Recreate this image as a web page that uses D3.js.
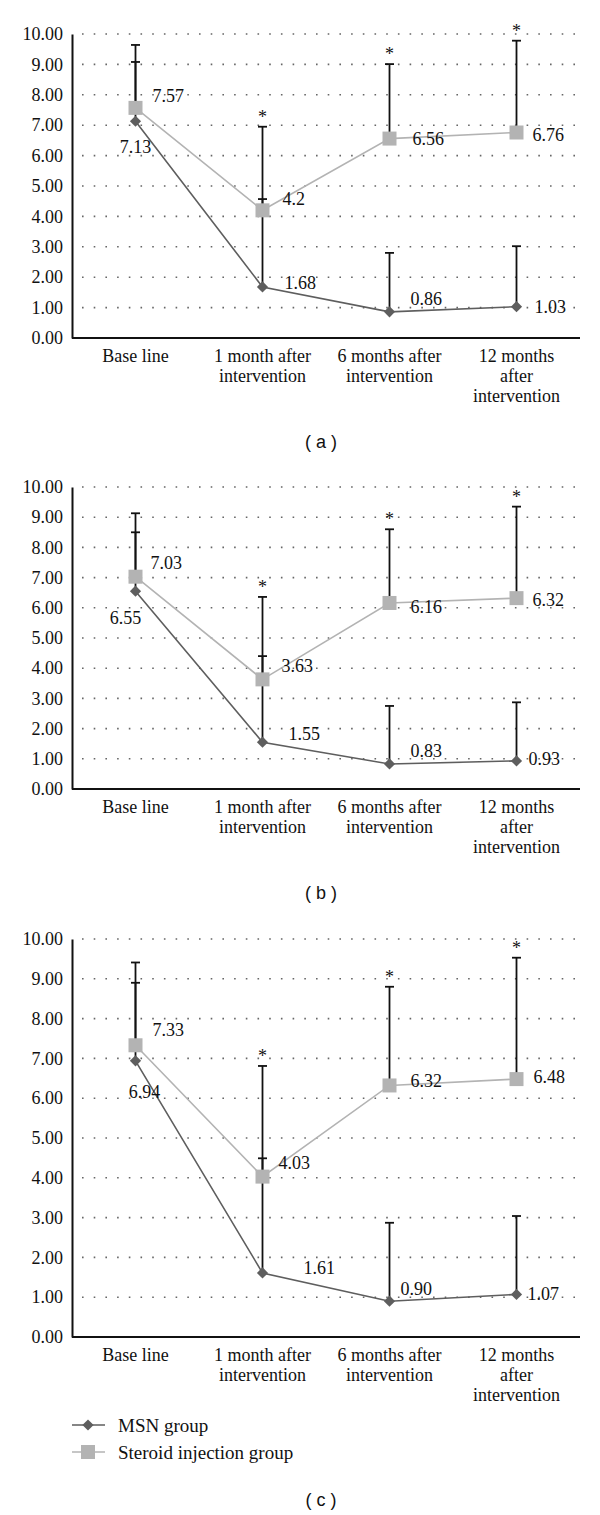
<!DOCTYPE html>
<html>
<head>
<meta charset="utf-8">
<script src="https://cdn.jsdelivr.net/npm/d3@7"></script>
<style>
  html, body { margin: 0; padding: 0; background: #fff; }
  svg { display: block; }
</style>
</head>
<body>
<svg id="chart" width="600" height="1515"></svg>
<script>
// ---------- data ----------
const categories = [
  ["Base line"],
  ["1 month after", "intervention"],
  ["6 months after", "intervention"],
  ["12 months", "after", "intervention"]
];
const yTicks = [0, 1, 2, 3, 4, 5, 6, 7, 8, 9, 10];
const seriesNames = ["MSN group", "Steroid injection group"];
const significant = [false, true, true, true];

// panel (a)
const msnA = [7.13, 1.68, 0.86, 1.03];
const msnTopA = [9.08, 4.57, 2.80, 3.02];
const msnLabelsA = ["7.13", "1.68", "0.86", "1.03"];
const steroidA = [7.57, 4.2, 6.56, 6.76];
const steroidTopA = [9.64, 6.95, 9.01, 9.78];
const steroidLabelsA = ["7.57", "4.2", "6.56", "6.76"];

// panel (b)
const msnB = [6.55, 1.55, 0.83, 0.93];
const msnTopB = [8.50, 4.40, 2.75, 2.87];
const msnLabelsB = ["6.55", "1.55", "0.83", "0.93"];
const steroidB = [7.03, 3.63, 6.16, 6.32];
const steroidTopB = [9.13, 6.36, 8.60, 9.35];
const steroidLabelsB = ["7.03", "3.63", "6.16", "6.32"];

// panel (c)
const msnC = [6.94, 1.61, 0.90, 1.07];
const msnTopC = [8.90, 4.49, 2.87, 3.04];
const msnLabelsC = ["6.94", "1.61", "0.90", "1.07"];
const steroidC = [7.33, 4.03, 6.32, 6.48];
const steroidTopC = [9.41, 6.81, 8.80, 9.53];
const steroidLabelsC = ["7.33", "4.03", "6.32", "6.48"];

const captions = ["( a )", "( b )", "( c )"];

// ---------- layout (positions kept apart from data) ----------
const panels = [
  { top: 34, bottom: 338, msn: msnA, msnTop: msnTopA, msnLab: msnLabelsA,
    st: steroidA, stTop: steroidTopA, stLab: steroidLabelsA,
    msnOff: [[0, 26, "middle"], [22, -4, "start"], [21, -13, "start"], [18, 0, "start"]],
    stOff: [[17, -12, "start"], [20, -11, "start"], [23, 0, "start"], [16, 3, "start"]] },
  { top: 487, bottom: 789, msn: msnB, msnTop: msnTopB, msnLab: msnLabelsB,
    st: steroidB, stTop: steroidTopB, stLab: steroidLabelsB,
    msnOff: [[-10, 27, "middle"], [26, -8, "start"], [21, -13, "start"], [12, -2, "start"]],
    stOff: [[15, -14, "start"], [19, -13, "start"], [21, 4, "start"], [16, 2, "start"]] },
  { top: 939, bottom: 1337, msn: msnC, msnTop: msnTopC, msnLab: msnLabelsC,
    st: steroidC, stTop: steroidTopC, stLab: steroidLabelsC,
    msnOff: [[9, 31, "middle"], [41, -5, "start"], [11, -12, "start"], [11, 0, "start"]],
    stOff: [[17, -15, "start"], [16, -14, "start"], [21, -4, "start"], [17, -2, "start"]] }
];

const serif = "'Liberation Serif', 'Times New Roman', serif";
const sans = "'Liberation Sans', Arial, sans-serif";
const msnColor = "#5e5e5e";
const stColor = "#b3b3b3";
const axisLeft = 72, axisRight = 580;

const svg = d3.select("#chart");

const x = d3.scaleBand().domain(d3.range(categories.length)).range([axisLeft, axisRight]).padding(0);
const cx = i => x(i) + x.bandwidth() / 2;

const diamond = d3.symbol().type(d3.symbolDiamond2).size(80);
const square = d3.symbol().type(d3.symbolSquare).size(196);

panels.forEach((p, pi) => {
  const y = d3.scaleLinear().domain([0, 10]).range([p.bottom, p.top]);
  const g = svg.append("g");

  // dotted gridlines
  g.selectAll("line.grid").data(yTicks.filter(t => t > 0)).enter().append("line")
    .attr("x1", axisLeft + 10).attr("x2", axisRight + 3)
    .attr("y1", d => y(d)).attr("y2", d => y(d))
    .attr("stroke", "#666").attr("stroke-width", 1.6)
    .attr("stroke-dasharray", "1.6,10.1");

  // y axis
  const yAxis = d3.axisLeft(y).tickValues(yTicks).tickSize(0).tickPadding(9)
    .tickFormat(d3.format(".2f"));
  const ya = g.append("g").attr("transform", `translate(${axisLeft},0)`).call(yAxis);
  ya.select(".domain").attr("stroke", "#111").attr("stroke-width", 2);
  ya.selectAll("text").attr("font-family", serif).attr("font-size", 18).attr("fill", "#111");

  // x axis
  const xa = g.append("g").attr("transform", `translate(0,${p.bottom})`)
    .call(d3.axisBottom(x).tickSize(0).tickFormat(""));
  xa.select(".domain").attr("stroke", "#111").attr("stroke-width", 2)
    .attr("d", `M${axisLeft},0H${axisRight}`);

  categories.forEach((lines, i) => {
    lines.forEach((ln, k) => {
      g.append("text").attr("x", cx(i)).attr("y", p.bottom + 18 + k * 20)
        .attr("dominant-baseline", "central")
        .attr("text-anchor", "middle").attr("font-family", serif).attr("font-size", 18)
        .attr("fill", "#111").text(ln);
    });
  });

  // lines
  const line = d3.line().x((d, i) => cx(i)).y(d => y(d));
  g.append("path").datum(p.st).attr("d", line).attr("fill", "none")
    .attr("stroke", stColor).attr("stroke-width", 1.6);
  g.append("path").datum(p.msn).attr("d", line).attr("fill", "none")
    .attr("stroke", msnColor).attr("stroke-width", 1.6);

  // error bars (upper only)
  const bars = [];
  p.msn.forEach((v, i) => bars.push({ i, from: v, to: p.msnTop[i] }));
  p.st.forEach((v, i) => bars.push({ i, from: v, to: p.stTop[i] }));
  bars.forEach(b => {
    g.append("line").attr("x1", cx(b.i)).attr("x2", cx(b.i))
      .attr("y1", y(b.from)).attr("y2", y(b.to))
      .attr("stroke", "#111").attr("stroke-width", 1.8);
    g.append("line").attr("x1", cx(b.i) - 4.5).attr("x2", cx(b.i) + 4.5)
      .attr("y1", y(b.to)).attr("y2", y(b.to))
      .attr("stroke", "#111").attr("stroke-width", 1.8);
  });

  // asterisks
  significant.forEach((s, i) => {
    if (!s) return;
    g.append("text").attr("x", cx(i)).attr("y", y(p.stTop[i]) - 4)
      .attr("text-anchor", "middle").attr("font-family", serif).attr("font-size", 18)
      .attr("fill", "#111").text("*");
  });

  // markers
  g.selectAll("path.sq").data(p.st).enter().append("path")
    .attr("d", square).attr("transform", (d, i) => `translate(${cx(i)},${y(d)})`)
    .attr("fill", stColor);
  g.selectAll("path.dm").data(p.msn).enter().append("path")
    .attr("d", diamond).attr("transform", (d, i) => `translate(${cx(i)},${y(d)})`)
    .attr("fill", msnColor);

  // data labels
  p.st.forEach((v, i) => {
    const o = p.stOff[i];
    g.append("text").attr("x", cx(i) + o[0]).attr("y", y(v) + o[1])
      .attr("dominant-baseline", "central").attr("text-anchor", o[2])
      .attr("font-family", serif).attr("font-size", 18).attr("fill", "#111")
      .text(p.stLab[i]);
  });
  p.msn.forEach((v, i) => {
    const o = p.msnOff[i];
    g.append("text").attr("x", cx(i) + o[0]).attr("y", y(v) + o[1])
      .attr("dominant-baseline", "central").attr("text-anchor", o[2])
      .attr("font-family", serif).attr("font-size", 18).attr("fill", "#111")
      .text(p.msnLab[i]);
  });
});

// legend
const legendY = [1425, 1452];
const lg = svg.append("g");
seriesNames.forEach((name, k) => {
  const col = k === 0 ? msnColor : stColor;
  lg.append("line").attr("x1", 72).attr("x2", 105).attr("y1", legendY[k]).attr("y2", legendY[k])
    .attr("stroke", col).attr("stroke-width", 1.6);
  lg.append("path").attr("d", k === 0 ? diamond : square)
    .attr("transform", `translate(88,${legendY[k]})`).attr("fill", col);
  lg.append("text").attr("x", 118).attr("y", legendY[k]).attr("dominant-baseline", "central")
    .attr("font-family", serif).attr("font-size", 19).attr("fill", "#111").text(name);
});

// captions
const captionY = [442, 893, 1500];
captions.forEach((c, k) => {
  svg.append("text").attr("x", 321).attr("y", captionY[k]).attr("dominant-baseline", "central")
    .attr("text-anchor", "middle").attr("font-family", sans).attr("font-size", 18)
    .attr("fill", "#111").attr("xml:space", "preserve").style("white-space", "pre").text(c);
});
</script>
</body>
</html>
